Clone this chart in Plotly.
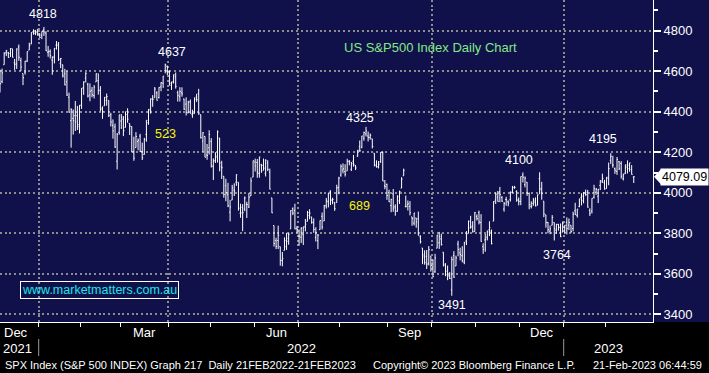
import plotly.graph_objects as go
import pandas as pd
import numpy as np

# ---------------- data (S&P 500 daily OHLC, Dec-2021 .. 17-Feb-2023) ----------------
holidays = ["2021-12-24", "2022-01-17", "2022-02-21", "2022-04-15", "2022-05-30",
            "2022-06-20", "2022-07-04", "2022-09-05", "2022-11-24", "2022-12-26",
            "2023-01-02", "2023-01-16"]

opens = [
    # Dec 2021
    4602.8, 4504.7, 4589.5, 4548.4, 4632.0, 4690.9, 4691.0, 4687.6, 4710.3, 4642.0, 4636.5,
    4719.1, 4652.5, 4587.9, 4595.0, 4650.4, 4704.0, 4734.0, 4795.5, 4788.6, 4794.2, 4775.2,
    # Jan 2022
    4778.1, 4804.5, 4788.0, 4693.4, 4697.7, 4655.3, 4669.1, 4728.6, 4733.6, 4638.0,
    4632.2, 4588.0, 4547.4, 4471.4, 4356.3, 4366.6, 4380.6, 4380.6, 4336.2, 4431.8,
    # Feb 2022
    4519.6, 4566.4, 4535.4, 4482.8, 4505.8, 4480.0, 4547.0, 4553.2, 4506.3, 4412.6,
    4429.3, 4455.8, 4456.1, 4385.4, 4332.7, 4324.9, 4155.8, 4298.4, 4354.2,
    # Mar 2022
    4363.1, 4322.6, 4401.3, 4342.1, 4327.0, 4202.7, 4223.1, 4252.6, 4279.5, 4202.8, 4188.8,
    4288.1, 4345.1, 4407.3, 4462.4, 4469.1, 4493.1, 4470.0, 4522.9, 4541.1, 4602.9, 4624.2,
    4599.0,
    # Apr 2022
    4540.3, 4548.0, 4572.5, 4494.2, 4474.7, 4494.2, 4462.6, 4437.6, 4394.3, 4449.1,
    4385.6, 4390.6, 4472.3, 4489.2, 4385.8, 4255.3, 4278.1, 4186.5, 4222.6, 4253.8,
    # May 2022
    4130.6, 4159.8, 4181.2, 4270.4, 4128.2, 4081.3, 4035.2, 3990.1, 3904.0, 3963.9, 4013.0,
    4052.0, 4052.0, 3899.0, 3927.8, 3919.4, 3942.9, 3929.6, 3984.6, 4077.4, 4151.1,
    # Jun 2022
    4149.8, 4095.4, 4137.6, 4134.7, 4096.5, 4147.1, 4101.7, 3974.4, 3838.2, 3763.5, 3764.1,
    3733.9, 3665.9, 3715.3, 3733.9, 3774.7, 3821.8, 3920.8, 3913.0, 3825.1, 3786.0,
    # Jul 2022
    3781.0, 3792.6, 3832.0, 3858.9, 3888.3, 3880.9, 3852.0, 3779.7, 3764.0, 3818.0,
    3883.8, 3860.7, 3935.3, 3955.5, 4007.0, 3965.7, 3953.2, 3951.4, 4026.1, 4087.3,
    # Aug 2022
    4112.4, 4104.2, 4108.0, 4154.9, 4115.9, 4155.9, 4133.1, 4181.0, 4227.4, 4225.0, 4269.4,
    4290.5, 4280.4, 4273.1, 4266.3, 4195.1, 4133.1, 4126.6, 4153.3, 4198.7, 4034.6, 4041.3,
    4000.7,
    # Sep 2022
    3936.7, 3994.7, 3930.9, 3909.4, 3959.9, 4022.9, 4083.7, 3932.4, 3940.7, 3932.4, 3881.0,
    3849.9, 3875.2, 3871.4, 3782.4, 3727.1, 3682.7, 3686.4, 3651.9, 3687.0, 3633.5,
    # Oct 2022
    3609.8, 3726.5, 3753.3, 3772.0, 3706.7, 3647.5, 3595.9, 3590.8, 3520.4, 3690.4, 3638.7,
    3746.3, 3703.1, 3689.1, 3657.1, 3762.0, 3799.4, 3826.0, 3834.7, 3808.3, 3881.9,
    # Nov 2022
    3901.8, 3852.9, 3733.3, 3767.0, 3780.7, 3817.0, 3810.9, 3859.9, 3963.7, 3978.0, 4006.4,
    3976.8, 3919.3, 3966.4, 3956.2, 3965.5, 4000.3, 4023.3, 4005.4, 3964.2, 3957.2,
    # Dec 2022
    4087.1, 4040.2, 4052.0, 3996.6, 3933.3, 3947.8, 3954.2, 3939.3, 4069.4, 4015.5, 3958.4,
    3890.9, 3853.8, 3810.5, 3839.5, 3853.3, 3815.1, 3843.3, 3829.6, 3805.5, 3829.1,
    # Jan 2023
    3853.3, 3840.4, 3839.7, 3823.4, 3910.8, 3888.6, 3932.4, 3977.6, 3960.6, 3999.3,
    4002.3, 3911.8, 3909.0, 3978.1, 4001.7, 3982.7, 4036.1, 4053.7, 4049.3, 4020.9,
    # Feb 2023
    4070.1, 4158.7, 4136.7, 4119.6, 4105.4, 4153.5, 4144.3, 4068.9, 4096.6, 4126.7,
    4119.5, 4114.8, 4077.4,
]
highs = [
    4652.9, 4595.5, 4608.0, 4612.6, 4694.0, 4705.1, 4695.3, 4713.6, 4710.3, 4660.5, 4712.6,
    4732.0, 4666.7, 4587.9, 4651.1, 4697.7, 4740.7, 4791.5, 4807.0, 4804.1, 4808.9, 4787.0,
    4796.6, 4818.6, 4797.7, 4725.0, 4708.0, 4673.0, 4714.1, 4748.8, 4744.1, 4665.1,
    4632.2, 4611.6, 4602.1, 4494.5, 4417.4, 4411.0, 4453.2, 4428.7, 4432.7, 4516.9,
    4550.5, 4595.3, 4542.9, 4539.7, 4521.9, 4531.3, 4590.0, 4588.9, 4526.3, 4426.2,
    4472.8, 4489.6, 4456.1, 4394.8, 4362.1, 4341.5, 4294.7, 4385.3, 4388.8,
    4378.5, 4401.5, 4416.8, 4342.1, 4327.0, 4276.9, 4299.4, 4268.3, 4291.0, 4247.6, 4271.1,
    4358.0, 4412.7, 4465.4, 4481.8, 4522.0, 4501.1, 4520.6, 4546.0, 4575.7, 4637.3, 4627.8,
    4603.1,
    4548.7, 4583.5, 4593.5, 4503.9, 4521.2, 4520.4, 4464.4, 4471.0, 4453.9, 4460.5,
    4410.3, 4471.0, 4488.3, 4512.9, 4385.8, 4299.0, 4278.1, 4240.7, 4308.5, 4269.7,
    4169.8, 4200.1, 4307.7, 4270.4, 4157.7, 4081.3, 4068.8, 4049.1, 3964.8, 4038.9, 4046.5,
    4090.7, 4052.0, 3946.0, 3943.4, 3981.9, 3955.7, 3999.3, 4075.1, 4158.5, 4168.3,
    4166.5, 4177.5, 4142.7, 4168.8, 4164.9, 4160.1, 4119.1, 3974.4, 3838.2, 3778.2, 3837.6,
    3733.9, 3707.7, 3779.7, 3801.8, 3802.6, 3913.7, 3927.7, 3945.9, 3836.5, 3819.0,
    3829.8, 3832.2, 3870.9, 3910.6, 3918.5, 3880.9, 3873.4, 3829.4, 3796.4, 3863.6,
    3902.4, 3939.8, 3974.1, 3999.3, 4012.4, 3975.3, 3953.2, 4039.6, 4079.0, 4140.2,
    4145.0, 4140.5, 4167.7, 4161.3, 4151.6, 4186.6, 4137.3, 4211.0, 4257.9, 4280.5, 4301.8,
    4325.3, 4302.2, 4292.5, 4266.3, 4195.1, 4159.8, 4156.6, 4200.5, 4203.0, 4063.0, 4045.0,
    4015.4,
    3970.2, 4018.4, 3942.6, 3987.9, 4010.5, 4076.8, 4119.3, 3985.9, 3961.9, 3959.1, 3881.0,
    3900.5, 3876.0, 3907.1, 3790.3, 3727.1, 3715.7, 3717.5, 3736.7, 3687.0, 3671.4,
    3698.4, 3791.9, 3806.9, 3797.9, 3706.7, 3652.2, 3640.7, 3608.3, 3685.4, 3712.0, 3689.7,
    3762.8, 3728.6, 3736.0, 3757.9, 3810.7, 3862.9, 3886.2, 3860.0, 3905.4, 3893.7,
    3911.8, 3894.4, 3750.6, 3796.3, 3814.0, 3859.4, 3818.2, 3958.3, 4001.5, 4009.0, 4028.8,
    3983.1, 3954.3, 3979.9, 3962.0, 4005.9, 4033.8, 4034.0, 4012.3, 3976.8, 4080.1,
    4100.5, 4080.5, 4052.5, 4001.5, 3957.6, 3974.2, 3977.0, 3991.0, 4101.0, 4053.8, 3958.4,
    3890.9, 3854.9, 3838.2, 3889.8, 3853.3, 3845.8, 3846.7, 3848.3, 3858.2, 3839.9,
    3878.5, 3873.2, 3839.7, 3906.2, 3950.6, 3919.8, 3970.1, 3997.8, 4004.0, 4015.4,
    4014.2, 3922.9, 3973.0, 4039.3, 4023.9, 4019.6, 4061.6, 4094.2, 4063.9, 4077.2,
    4149.0, 4195.4, 4182.4, 4124.6, 4176.5, 4156.9, 4156.2, 4094.4, 4138.9, 4159.8,
    4148.1, 4136.5, 4081.5,
]
lows = [
    4510.3, 4504.7, 4495.1, 4540.5, 4632.0, 4674.5, 4666.0, 4670.2, 4667.6, 4606.5, 4611.2,
    4651.9, 4600.2, 4531.1, 4583.2, 4645.5, 4704.0, 4734.0, 4780.0, 4778.1, 4775.3, 4765.7,
    4758.2, 4774.3, 4699.4, 4671.3, 4662.7, 4582.2, 4638.3, 4706.7, 4650.3, 4614.8,
    4568.7, 4530.2, 4478.0, 4395.3, 4222.6, 4287.1, 4304.8, 4309.5, 4292.5, 4414.0,
    4483.5, 4544.3, 4470.4, 4451.5, 4471.5, 4465.4, 4547.0, 4484.3, 4401.4, 4364.8,
    4429.3, 4429.7, 4373.8, 4327.2, 4267.1, 4221.5, 4114.7, 4286.8, 4315.1,
    4279.5, 4322.6, 4345.6, 4285.0, 4199.9, 4157.9, 4223.1, 4209.8, 4200.5, 4161.7, 4187.9,
    4252.0, 4335.7, 4390.6, 4424.3, 4469.1, 4455.8, 4465.2, 4501.1, 4517.7, 4589.7, 4581.3,
    4530.4,
    4507.6, 4539.2, 4514.2, 4450.0, 4450.3, 4474.6, 4408.4, 4381.3, 4392.7, 4390.8,
    4370.3, 4390.6, 4448.8, 4384.5, 4267.6, 4200.8, 4175.0, 4162.9, 4188.6, 4124.3,
    4062.5, 4147.1, 4148.9, 4106.0, 4067.9, 3975.5, 3958.2, 3928.8, 3858.9, 3963.9, 3984.0,
    4033.9, 3911.9, 3876.6, 3810.3, 3909.0, 3875.1, 3925.0, 3984.6, 4077.4, 4104.9,
    4073.9, 4074.4, 4098.7, 4109.2, 4080.2, 4107.2, 4017.2, 3900.2, 3734.3, 3721.6, 3722.3,
    3639.8, 3636.9, 3715.3, 3717.7, 3743.5, 3821.8, 3889.7, 3820.1, 3799.0, 3738.7,
    3752.1, 3742.1, 3809.4, 3858.9, 3869.3, 3847.2, 3802.4, 3759.1, 3721.6, 3817.2,
    3818.6, 3860.7, 3922.0, 3927.6, 3938.9, 3943.5, 3910.7, 3951.4, 3993.0, 4079.2,
    4096.0, 4079.8, 4108.0, 4135.4, 4107.3, 4129.0, 4112.1, 4177.3, 4201.4, 4219.8, 4256.9,
    4277.8, 4253.1, 4262.0, 4218.7, 4129.9, 4124.0, 4120.0, 4147.6, 4057.7, 4017.4, 3965.2,
    3954.5,
    3903.7, 3906.2, 3886.8, 3906.0, 3944.8, 4022.9, 4083.7, 3927.4, 3912.4, 3888.3, 3837.1,
    3838.5, 3827.5, 3789.5, 3749.5, 3647.5, 3644.8, 3623.3, 3640.6, 3610.4, 3584.1,
    3604.9, 3726.5, 3722.7, 3739.2, 3636.7, 3588.1, 3568.5, 3573.9, 3491.6, 3579.7, 3638.7,
    3686.5, 3666.5, 3656.4, 3647.4, 3741.7, 3799.4, 3824.1, 3803.8, 3808.3, 3863.2,
    3843.8, 3758.7, 3698.2, 3708.8, 3764.7, 3786.3, 3745.2, 3859.9, 3944.8, 3956.4, 3953.2,
    3954.3, 3906.5, 3936.0, 3933.3, 3956.9, 3998.7, 4020.8, 3955.8, 3937.7, 3938.6,
    4050.9, 4026.6, 3984.5, 3918.4, 3922.7, 3935.8, 3933.0, 3937.7, 3993.0, 3965.7, 3879.5,
    3827.9, 3800.0, 3795.6, 3839.5, 3764.5, 3797.0, 3813.2, 3780.8, 3805.5, 3800.3,
    3794.3, 3815.8, 3802.4, 3809.6, 3890.4, 3877.3, 3928.5, 3937.6, 3947.7, 3984.6,
    3926.6, 3885.5, 3897.9, 3971.6, 3989.8, 3949.1, 4013.3, 4048.7, 4015.6, 4020.4,
    4037.2, 4141.9, 4123.4, 4093.4, 4088.4, 4111.7, 4069.7, 4060.8, 4092.7, 4095.0,
    4104.0, 4089.9, 4048.0,
]
closes = [
    4513.0, 4577.1, 4538.4, 4591.7, 4686.8, 4701.2, 4667.5, 4712.0, 4669.0, 4634.1, 4709.9,
    4668.7, 4620.6, 4568.0, 4649.2, 4696.6, 4725.8, 4791.2, 4786.4, 4793.1, 4778.7, 4766.2,
    4796.6, 4793.5, 4700.6, 4696.1, 4677.0, 4670.3, 4713.1, 4726.4, 4659.0, 4662.9,
    4577.1, 4532.8, 4482.7, 4397.9, 4410.1, 4356.5, 4349.9, 4326.5, 4431.9, 4515.6,
    4546.5, 4589.4, 4477.4, 4500.5, 4483.9, 4521.5, 4587.2, 4504.1, 4418.6, 4401.7,
    4471.1, 4475.0, 4380.3, 4348.9, 4304.8, 4225.5, 4288.7, 4384.7, 4373.9,
    4306.3, 4386.5, 4363.5, 4328.9, 4201.1, 4170.7, 4277.9, 4259.5, 4204.3, 4173.1, 4262.5,
    4357.9, 4411.7, 4463.1, 4461.2, 4511.6, 4456.2, 4520.2, 4543.1, 4575.5, 4631.6, 4602.5,
    4530.4,
    4545.9, 4582.6, 4525.1, 4481.2, 4500.2, 4488.3, 4412.5, 4397.5, 4446.6, 4392.6,
    4391.7, 4462.2, 4459.5, 4393.7, 4271.8, 4296.1, 4175.2, 4184.0, 4287.5, 4131.9,
    4155.4, 4175.5, 4300.2, 4146.9, 4123.3, 3991.2, 4001.1, 3935.2, 3930.1, 4023.9, 4008.0,
    4088.9, 3923.7, 3900.8, 3901.4, 3973.8, 3941.5, 3978.7, 4057.8, 4158.2, 4132.2,
    4101.2, 4176.8, 4108.5, 4121.4, 4160.7, 4115.8, 4017.8, 3900.9, 3749.6, 3735.5, 3790.0,
    3666.8, 3674.8, 3764.8, 3759.9, 3795.7, 3911.7, 3900.1, 3821.6, 3818.8, 3785.4,
    3825.3, 3831.4, 3845.1, 3902.6, 3899.4, 3854.4, 3818.8, 3801.8, 3790.4, 3863.2,
    3830.9, 3936.7, 3959.9, 3999.0, 3961.6, 3966.8, 3921.1, 4023.6, 4072.4, 4130.3,
    4118.6, 4091.2, 4155.2, 4151.9, 4145.2, 4140.1, 4122.5, 4210.2, 4207.3, 4280.2, 4297.1,
    4305.2, 4274.0, 4283.7, 4228.5, 4138.0, 4128.7, 4140.8, 4199.1, 4057.7, 4030.6, 3986.2,
    3955.0,
    3966.9, 3924.3, 3908.2, 3979.9, 4006.2, 4067.4, 4110.4, 3932.7, 3946.0, 3901.4, 3873.3,
    3899.9, 3855.9, 3789.9, 3758.0, 3693.2, 3655.0, 3647.3, 3719.0, 3640.5, 3585.6,
    3678.4, 3790.9, 3783.3, 3744.5, 3639.7, 3612.4, 3588.8, 3577.0, 3669.9, 3583.1, 3678.0,
    3720.0, 3695.2, 3665.8, 3752.8, 3797.3, 3859.1, 3830.6, 3807.3, 3901.1, 3872.0,
    3856.1, 3759.7, 3719.9, 3770.6, 3806.8, 3828.1, 3748.6, 3956.4, 3992.9, 3957.3, 3991.7,
    3958.8, 3946.6, 3965.3, 3949.9, 4003.6, 4027.3, 4026.1, 3963.9, 3957.6, 4080.1,
    4076.6, 4071.7, 3998.8, 3941.3, 3933.9, 3963.5, 3934.4, 3990.6, 4019.7, 3995.3, 3895.8,
    3852.4, 3817.7, 3821.6, 3878.4, 3822.4, 3844.8, 3829.3, 3783.2, 3849.3, 3839.5,
    3824.1, 3853.0, 3808.1, 3895.1, 3892.1, 3919.3, 3969.6, 3983.2, 3999.1, 3991.0,
    3928.9, 3898.9, 3972.6, 4019.8, 4017.0, 4016.2, 4060.4, 4070.6, 4017.8, 4076.6,
    4119.2, 4179.8, 4136.5, 4111.1, 4164.0, 4117.9, 4081.5, 4090.5, 4137.3, 4136.1,
    4147.6, 4090.4, 4079.09,
]

y_ticks = [3400, 3600, 3800, 4000, 4200, 4400, 4600, 4800]
quarter_label_months = [12, 3, 6, 9]
grid_months = [1, 4, 7, 10]

# ---------------- trading calendar ----------------
days = pd.bdate_range("2021-12-01", "2023-02-17")
days = days[~days.isin(pd.to_datetime(holidays))]
g = np.arange(len(days))
assert len(days) == len(closes) == len(opens) == len(highs) == len(lows)

X0, X1 = 2.0, 314.2
Y0, Y1 = 3362.0, 4951.5
PW, PH = 653, 322  # plot area size in px

per = days.to_period("M")
firsts = [i for i in range(len(days)) if i == 0 or per[i] != per[i - 1]]
bounds = [i - 1.5 for i in firsts]
months = [per[i] for i in firsts]

grid_x = [b for b, m in zip(bounds, months) if m.month in grid_months]
minor_x = [b for b in bounds if X0 < b < X1]

NAVY = "#10104b"
FONT = "Liberation Sans, Arial, sans-serif"
WHITE = "#ffffff"

fig = go.Figure(go.Ohlc(
    x=g, open=opens, high=highs, low=lows, close=closes,
    increasing=dict(line=dict(color=WHITE, width=1)),
    decreasing=dict(line=dict(color=WHITE, width=1)),
    tickwidth=0.45, hoverinfo="skip", showlegend=False,
))

ann = []
# month labels (last month of each quarter), centred in month span
for k, m in enumerate(months):
    if m.month in quarter_label_months:
        start = bounds[k]
        end = bounds[k + 1] if k + 1 < len(bounds) else X1
        ann.append(dict(x=(start + end) / 2, y=1 - 332 / PH,
                        xref="x", yref="paper", text=m.strftime("%b"), showarrow=False,
                        xanchor="center", yanchor="middle",
                        font=dict(color=WHITE, size=13, family=FONT)))
# year labels
jan = [b for b, m in zip(bounds, months) if m.month == 1]
ann.append(dict(x=X0, xshift=1, y=1 - 348 / PH, xref="x", yref="paper", text=str(months[0].year),
                showarrow=False, xanchor="left", yanchor="middle",
                font=dict(color=WHITE, size=13, family=FONT)))
ann.append(dict(x=(jan[0] + jan[1]) / 2, y=1 - 348 / PH, xref="x", yref="paper", text="2022",
                showarrow=False, xanchor="center", yanchor="middle",
                font=dict(color=WHITE, size=13, family=FONT)))
ann.append(dict(x=(jan[1] + X1) / 2, y=1 - 348 / PH, xref="x", yref="paper", text="2023",
                showarrow=False, xanchor="center", yanchor="middle",
                font=dict(color=WHITE, size=13, family=FONT)))

def idx(d):
    return days.get_loc(pd.Timestamp(d))

def peak(d, val, text, xs, ys):
    ann.append(dict(x=idx(d), y=val, xref="x", yref="y", text=text, showarrow=False,
                    xshift=xs, yshift=ys, xanchor="center", yanchor="middle",
                    font=dict(color=WHITE, size=12.5, family=FONT)))

peak("2022-01-04", highs[idx("2022-01-04")], "4818", -1, 13.4)
peak("2022-03-29", highs[idx("2022-03-29")], "4637", 7, 11.6)
peak("2022-08-16", highs[idx("2022-08-16")], "4325", -6, 9)
peak("2022-12-01", highs[idx("2022-12-01")], "4100", -4, 12.4)
peak("2023-02-02", highs[idx("2023-02-02")], "4195", -8, 14.2)
peak("2022-12-22", lows[idx("2022-12-22")], "3764", 3, -14.5)
peak("2022-10-13", lows[idx("2022-10-13")], "3491", 0, -9.3)

def px(xp, yp):
    return xp / PW, 1 - yp / PH

for t, (xx, yy) in [("523", (165, 134)), ("689", (359, 206))]:
    a, b = px(xx, yy)
    ann.append(dict(x=a, y=b, xref="paper", yref="paper", text=t, showarrow=False,
                    xanchor="center", yanchor="middle",
                    font=dict(color="#f5f500", size=12.5, family=FONT)))

a, b = px(430, 47)
ann.append(dict(x=a, y=b, xref="paper", yref="paper", text="US S&P500 Index Daily Chart",
                showarrow=False, xanchor="center", yanchor="middle",
                font=dict(color="#84e884", size=13, family=FONT)))

a, b = px(99.5, 290)
ann.append(dict(x=a, y=b, xref="paper", yref="paper", text="www.marketmatters.com.au",
                showarrow=False, xanchor="center", yanchor="middle",
                bordercolor=WHITE, borderwidth=1, borderpad=1,
                font=dict(color="#19e6e6", size=12.5, family=FONT)))

# footer
for t, xx in [("SPX Index (S&P 500 INDEX) Graph 217  Daily 21FEB2022-21FEB2023", 3),
              ("Copyright\u00a9 2023 Bloomberg Finance L.P.", 371),
              ("21-Feb-2023 06:44:59", 591)]:
    ann.append(dict(x=xx / PW, y=1 - 365 / PH, xref="paper", yref="paper", text=t,
                    showarrow=False, xanchor="left", yanchor="middle",
                    font=dict(color=WHITE, size=11, family=FONT)))

# last price tag
last = closes[-1]
ann.append(dict(x=709 / PW, y=last, xref="paper", yref="y", text=f"{last:.2f}",
                showarrow=False, xanchor="right", yanchor="middle", bgcolor=WHITE,
                borderpad=1, font=dict(color="#000000", size=12.5, family=FONT)))

shapes = [
    # navy strip behind right axis
    dict(type="rect", xref="paper", yref="paper", x0=1, x1=709 / PW, y0=0, y1=1,
         fillcolor=NAVY, line=dict(width=0), layer="below"),
]
# year separators
for b in jan:
    shapes.append(dict(type="line", xref="x", yref="paper", x0=b, x1=b,
                       y0=1 - 339 / PH, y1=1 - 356 / PH, line=dict(color="#9a9a9a", width=1)))
# price tag pointer
dy = 7.5 * (Y1 - Y0) / PH
shapes.append(dict(type="path", xref="paper", yref="y",
                   path=f"M {654/PW},{last} L {661/PW},{last+dy} L {661/PW},{last-dy} Z",
                   fillcolor=WHITE, line=dict(width=0)))

fig.update_layout(
    width=709, height=373,
    margin=dict(l=0, r=56, t=0, b=51),
    paper_bgcolor="#000000", plot_bgcolor=NAVY,
    annotations=ann, shapes=shapes,
    xaxis=dict(range=[X0, X1], rangeslider=dict(visible=False), showticklabels=False,
               tickmode="array", tickvals=grid_x, ticks="outside", ticklen=4,
               tickcolor=WHITE, showgrid=True, gridcolor="#8c8c8c", gridwidth=1.5,
               griddash="2px,2.7px", showline=True, linecolor=WHITE, linewidth=1,
               zeroline=False, fixedrange=True,
               minor=dict(tickmode="array", tickvals=minor_x, ticks="outside", ticklen=4,
                          tickcolor=WHITE, showgrid=False)),
    yaxis=dict(range=[Y0, Y1], side="right", tickmode="array", tickvals=y_ticks,
               ticks="outside", ticklen=7, tickwidth=2, tickcolor=WHITE,
               showgrid=True, gridcolor="#8c8c8c", gridwidth=1.5, griddash="2px,2.7px",
               showline=True, linecolor=WHITE, linewidth=1, zeroline=False,
               fixedrange=True,
               tickfont=dict(color=WHITE, size=13, family=FONT),
               minor=dict(dtick=100, tick0=0, ticks="outside", ticklen=4,
                          tickcolor=WHITE, showgrid=False)),
)

fig.write_html("out.html", config={"displayModeBar": False},
               post_script="document.body.style.margin='0';document.body.style.padding='0';"
                           "document.body.style.background='#000';")
